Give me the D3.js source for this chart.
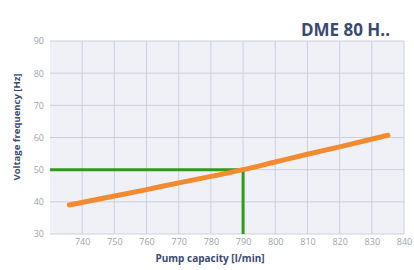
<!DOCTYPE html>
<html>
<head>
<meta charset="utf-8">
<script src="https://cdn.jsdelivr.net/npm/d3@7"></script>
<style>
  body { margin: 0; background: #fff; }
  svg { display: block; font-family: "Open Sans", "DejaVu Sans", sans-serif; }
</style>
</head>
<body>
<svg id="chart" width="414" height="270"></svg>
<script>
// pump curve
const capacity = [736, 750, 760, 770, 780, 790, 800, 810, 820, 835];
const frequency = [39, 41.8, 43.8, 45.9, 47.9, 50, 52.4, 54.8, 57.1, 60.7];

// operating point marker
const opCapacity = 790;
const opFrequency = 50;

const xTicks = [740, 750, 760, 770, 780, 790, 800, 810, 820, 830, 840];
const yTicks = [30, 40, 50, 60, 70, 80, 90];

const title = 'DME 80 H..';
const xTitle = 'Pump capacity [l/min]';
const yTitle = 'Voltage frequency [Hz]';

const margin = { top: 41, right: 10, bottom: 36, left: 50 };
const width = 414 - margin.left - margin.right;
const height = 270 - margin.top - margin.bottom;

const svg = d3.select('#chart');
const g = svg.append('g').attr('transform', `translate(${margin.left},${margin.top})`);

const x = d3.scaleLinear().domain([730, 840]).range([0, width]);
const y = d3.scaleLinear().domain([30, 90]).range([height, 0]);

g.append('rect')
  .attr('width', width)
  .attr('height', height)
  .attr('fill', '#eff1f6');

// grid
g.append('g')
  .selectAll('line.vgrid')
  .data(xTicks)
  .enter()
  .append('line')
    .attr('x1', d => x(d)).attr('x2', d => x(d))
    .attr('y1', 0).attr('y2', height)
    .attr('stroke', '#cdd0d8').attr('stroke-width', 1);

g.append('g')
  .selectAll('line.hgrid')
  .data(yTicks)
  .enter()
  .append('line')
    .attr('x1', 0).attr('x2', width)
    .attr('y1', d => y(d)).attr('y2', d => y(d))
    .attr('stroke', '#cdd0d8').attr('stroke-width', 1);

// axes (labels only)
const xAxis = g.append('g')
  .attr('transform', `translate(0,${height})`)
  .call(d3.axisBottom(x).tickValues(xTicks).tickSize(0).tickPadding(5));
const yAxis = g.append('g')
  .call(d3.axisLeft(y).tickValues(yTicks).tickSize(0).tickPadding(6));

[xAxis, yAxis].forEach(a => {
  a.select('.domain').remove();
  a.selectAll('text')
    .attr('fill', '#9da2ab')
    .style('font-size', '9px')
    .style('font-family', '"Open Sans", "DejaVu Sans", sans-serif');
});

// operating point lines
const green = d3.line()
  .x(d => x(d[0]))
  .y(d => y(d[1]));

g.append('path')
  .datum([[730, opFrequency], [opCapacity, opFrequency], [opCapacity, 30]])
  .attr('fill', 'none')
  .attr('stroke', '#2f9a1c')
  .attr('stroke-width', 3)
  .attr('d', green);

// pump curve
const curve = d3.line()
  .x((d, i) => x(capacity[i]))
  .y(d => y(d))
  .curve(d3.curveMonotoneX);

g.append('path')
  .datum(frequency)
  .attr('fill', 'none')
  .attr('stroke', '#f28a30')
  .attr('stroke-width', 5)
  .attr('stroke-linecap', 'round')
  .attr('d', curve);

// titles
svg.append('text')
  .attr('x', 390)
  .attr('y', 36)
  .attr('text-anchor', 'end')
  .attr('fill', '#3a4a70')
  .style('font-size', '17px')
  .style('font-weight', 'bold')
  .text(title);

svg.append('text')
  .attr('x', 210)
  .attr('y', 262)
  .attr('text-anchor', 'middle')
  .attr('fill', '#3a4a70')
  .style('font-size', '10px')
  .style('font-weight', 'bold')
  .text(xTitle);

svg.append('text')
  .attr('transform', 'translate(20,127) rotate(-90)')
  .attr('text-anchor', 'middle')
  .attr('fill', '#3a4a70')
  .style('font-size', '9.5px')
  .style('font-weight', 'bold')
  .text(yTitle);
</script>
</body>
</html>
